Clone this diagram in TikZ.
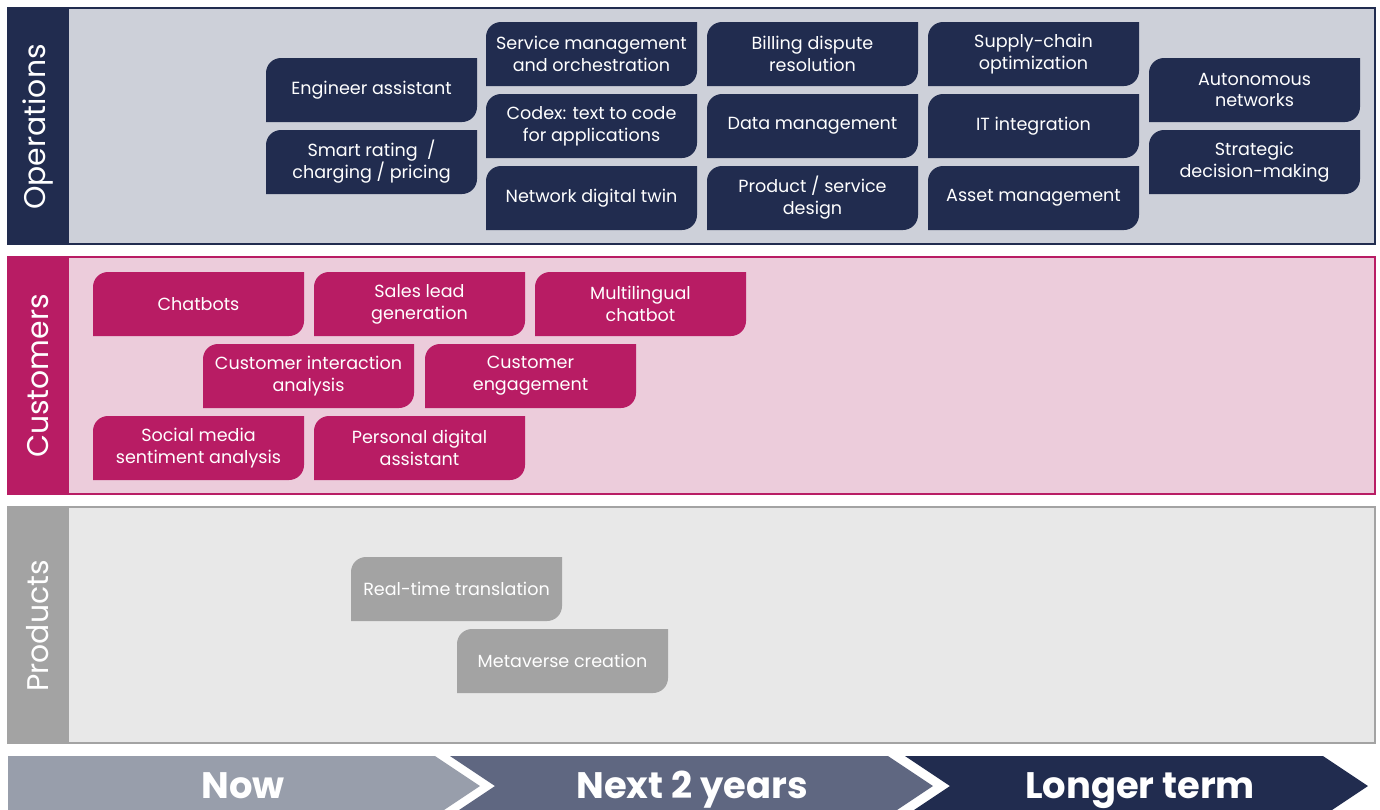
\documentclass[tikz,border=0pt]{standalone}
\usepackage{fontspec}
\setmainfont{Poppins}
\usepackage{xcolor}
\usepackage{tikz}
\usetikzlibrary{positioning}
\definecolor{azul}{HTML}{212C4F}
\definecolor{azulclaro}{HTML}{CDD0D9}
\definecolor{rosa}{HTML}{B81C64}
\definecolor{rosaclaro}{HTML}{ECCCDB}
\definecolor{gris}{HTML}{A3A3A3}
\definecolor{grisclaro}{HTML}{E8E8E8}
\definecolor{grisazul}{HTML}{989EAB}
\definecolor{azulmedio}{HTML}{5F6781}
\newcommand{\B}[1]{\textbf{#1}}
\tikzset{
  caja/.style={minimum width=4.22cm, minimum height=1.28cm,
    inner sep=0pt, text=white, align=center, font=\fontsize{10}{12.5}\selectfont},
  titulo/.style={rotate=90, text=white, font=\fontsize{17}{20}\selectfont},
  flecha/.style={text=white, anchor=base, inner sep=0pt, font=\fontsize{21}{24}\selectfont}
}
% caja: nombre, x, y (esquina superior izquierda), color, texto
\newcommand{\Caja}[5]{%
  \fill[#4] (#2+15,#3) -- (#2+211,#3) -- (#2+211,#3+49)
    arc[start angle=0, end angle=-90, radius=0.3cm] -- (#2,#3+64) -- (#2,#3+15)
    arc[start angle=180, end angle=90, radius=0.3cm] -- cycle;
  \node[caja] (#1) at (#2+105.5,#3+32) {#5};
}

\begin{document}
\begin{tikzpicture}[x=0.02cm, y=-0.02cm]
        \useasboundingbox (0,0) rectangle (1380,809);
        \clip (0,0) rectangle (1380,809);
        % Bloque Operations
        \draw[azul, line width=1.2pt, fill=azulclaro] (8,8) rectangle (1375,244);
        \fill[azul] (8,8) rectangle (69,244);
        \node[titulo] (ops) at (38,127) {Operations};
        \Caja{eng}{266}{58}{azul}{Engineer assistant}
        \Caja{rating}{266}{130}{azul}{Smart rating~~/\\charging / pricing}
        \Caja{serv}{486}{22}{azul}{Service management\\and orchestration}
        \Caja{codex}{486}{94}{azul}{Codex: text to code\\for applications}
        \Caja{twin}{486}{166}{azul}{Network digital twin}
        \Caja{billing}{707}{22}{azul}{Billing dispute\\resolution}
        \Caja{data}{707}{94}{azul}{Data management}
        \Caja{product}{707}{166}{azul}{Product / service\\design}
        \Caja{supply}{928}{22}{azul}{Supply-chain\\optimization}
        \Caja{it}{928}{94}{azul}{IT integration}
        \Caja{asset}{928}{166}{azul}{Asset management}
        \Caja{auto}{1149}{58}{azul}{Autonomous\\networks}
        \Caja{strat}{1149}{130}{azul}{Strategic\\decision-making}
        % Bloque Customers
        \draw[rosa, line width=1.2pt, fill=rosaclaro] (8,257) rectangle (1375,494);
        \fill[rosa] (8,257) rectangle (69,494);
        \node[titulo] (cust) at (38,376) {Customers};
        \Caja{chat}{93}{272}{rosa}{Chatbots}
        \Caja{sales}{314}{272}{rosa}{Sales lead\\generation}
        \Caja{multi}{535}{272}{rosa}{Multilingual\\chatbot}
        \Caja{inter}{203}{344}{rosa}{Customer interaction\\analysis}
        \Caja{engage}{425}{344}{rosa}{Customer\\engagement}
        \Caja{social}{93}{416}{rosa}{Social media\\sentiment analysis}
        \Caja{personal}{314}{416}{rosa}{Personal digital\\assistant}
        % Bloque Products
        \draw[gris, line width=1.2pt, fill=grisclaro] (8,507) rectangle (1375,743);
        \fill[gris] (8,507) rectangle (69,743);
        \node[titulo] (prod) at (38,626) {Products};
        \Caja{trans}{351}{557}{gris}{Real-time translation}
        \Caja{meta}{457}{629}{gris}{Metaverse creation}
        % Flechas de tiempo
        \fill[grisazul] (8,756) -- (435,756) -- (480,786) -- (435,816) -- (8,816) -- cycle;
        \fill[azulmedio] (450,756) -- (888,756) -- (933,786) -- (888,816) -- (450,816) -- (495,786) -- cycle;
        \fill[azul] (905,756) -- (1323,756) -- (1368,786) -- (1323,816) -- (905,816) -- (950,786) -- cycle;
        \node[flecha] (now) at (243,798) {\B{Now}};
        \node[flecha] (next) at (692,798) {\B{Next 2 years}};
        \node[flecha] (longer) at (1140,798) {\B{Longer term}};
\end{tikzpicture}
\end{document}
